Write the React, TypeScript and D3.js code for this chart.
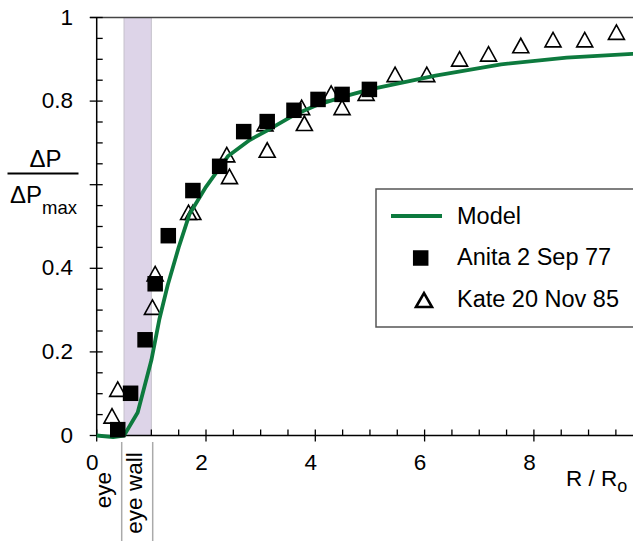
import React from "react";
import * as d3 from "d3";

const modelR = [0, 0.3, 0.5, 0.75, 1.0, 1.15, 1.3, 1.5, 1.7, 2.0, 2.4, 2.8, 3.1, 3.6, 4.0, 4.5, 5.0, 6.2, 7.4, 8.6, 9.8, 10];
const modelV = [0, -0.004, 0, 0.055, 0.18, 0.28, 0.36, 0.45, 0.53, 0.595, 0.668, 0.707, 0.728, 0.766, 0.789, 0.81, 0.828, 0.861, 0.888, 0.904, 0.913, 0.914];

const anitaR = [0.385, 0.62, 0.885, 1.07, 1.31, 1.76, 2.25, 2.69, 3.12, 3.61, 4.05, 4.49, 4.99];
const anitaV = [0.014, 0.101, 0.229, 0.363, 0.478, 0.586, 0.644, 0.727, 0.751, 0.778, 0.804, 0.816, 0.828];

const kateR = [0.28, 0.385, 1.02, 1.07, 1.68, 1.76, 2.38, 2.43, 3.08, 3.12, 3.75, 3.8, 4.29, 4.49, 4.93, 5.46, 6.04, 6.64, 7.17, 7.76, 8.35, 8.93, 9.51];
const kateV = [0.047, 0.111, 0.307, 0.387, 0.534, 0.534, 0.672, 0.62, 0.746, 0.683, 0.785, 0.747, 0.819, 0.785, 0.819, 0.864, 0.864, 0.901, 0.913, 0.933, 0.947, 0.947, 0.965];

const xMajor = [0, 2, 4, 6, 8];
const yMajor = [0, 0.2, 0.4, 0.6, 0.8, 1];
const yMajorLabels = ["0", "0.2", "0.4", "", "0.8", "1"];
const seriesNames = ["Model", "Anita 2 Sep 77", "Kate 20 Nov 85"];
const eyeBand = [0.5, 1.0];

const GREEN = "#0d7a3e";
const FONT = "'Liberation Sans', Arial, Helvetica, sans-serif";

const x = d3.scaleLinear().domain([0, 10]).range([96.7, 643.2]);
const y = d3.scaleLinear().domain([0, 1]).range([435.5, 17.5]);

function tri(cx: number, cy: number, w: number, h: number) {
  return `M${cx - w / 2},${cy + h / 2}L${cx},${cy - h / 2}L${cx + w / 2},${cy + h / 2}Z`;
}

export default function App() {
  const line = d3
    .line<number>()
    .x((_, i) => x(modelR[i]))
    .y((_, i) => y(modelV[i]));
  const modelPath = line(modelV) || "";
  const xMinor = d3.range(0, 10.01, 0.5).filter((v) => !xMajor.includes(v));
  const yMinor = d3.range(0, 1.001, 0.05).filter((v) => !yMajor.some((m) => Math.abs(m - v) < 1e-6));
  const sq = 15.5;

  return (
    <svg
      width={633}
      height={544}
      style={{ position: "absolute", left: 0, top: 0, background: "#fff" }}
      fontFamily={FONT}
    >
      <rect x={0} y={0} width={633} height={544} fill="#fff" />
      {/* eye wall band */}
      <rect x={x(eyeBand[0])} y={y(1)} width={x(eyeBand[1]) - x(eyeBand[0])} height={y(0) - y(1)} fill="#ddd4e8" />
      <line x1={x(eyeBand[0])} x2={x(eyeBand[0])} y1={y(1)} y2={y(0)} stroke="#c6c2cc" strokeWidth={1} />
      <line x1={x(eyeBand[1])} x2={x(eyeBand[1])} y1={y(1)} y2={y(0)} stroke="#c6c2cc" strokeWidth={1} />

      {/* top frame */}
      <line x1={90} x2={633} y1={y(1)} y2={y(1)} stroke="#444" strokeWidth={1.5} />
      {/* axes */}
      <line x1={x(0)} x2={x(0)} y1={y(1)} y2={y(0)} stroke="#000" strokeWidth={1.5} />
      <line x1={x(0)} x2={633} y1={y(0)} y2={y(0)} stroke="#000" strokeWidth={1.5} />

      {yMinor.map((v) => (
        <line key={"ym" + v} x1={x(0)} x2={x(0) + 6} y1={y(v)} y2={y(v)} stroke="#000" strokeWidth={1.3} />
      ))}
      {yMajor.map((v, i) => (
        <g key={"yM" + v}>
          <line x1={x(0) - 7} x2={x(0) + 6} y1={y(v)} y2={y(v)} stroke="#000" strokeWidth={1.3} />
          <text x={73} y={y(v) + 7} textAnchor="end" fontSize={22.5} fill="#000">
            {yMajorLabels[i]}
          </text>
        </g>
      ))}
      {xMinor.map((v) => (
        <line key={"xm" + v} x1={x(v)} x2={x(v)} y1={y(0) - 6} y2={y(0)} stroke="#000" strokeWidth={1.3} />
      ))}
      {xMajor.map((v) => (
        <g key={"xM" + v}>
          <line x1={x(v)} x2={x(v)} y1={y(0) - 6} y2={y(0) + 6} stroke="#000" strokeWidth={1.3} />
          <text x={x(v) - 4.5} y={470} textAnchor="middle" fontSize={22.5} fill="#000">
            {v}
          </text>
        </g>
      ))}

      {/* x axis title */}
      <text x={566} y={486} fontSize={22.5} fill="#000">
        R / R
        <tspan fontSize={18} dy={6}>
          o
        </tspan>
      </text>

      {/* eye labels */}
      <line x1={121.7} x2={121.7} y1={442} y2={541} stroke="#aaa" strokeWidth={1.5} />
      <line x1={152.7} x2={152.7} y1={442} y2={541} stroke="#aaa" strokeWidth={1.5} />
      <text transform="translate(111,490) rotate(-90)" textAnchor="middle" fontSize={22.5} fill="#000">
        eye
      </text>
      <text transform="translate(142,493) rotate(-90)" textAnchor="middle" fontSize={22.5} fill="#000">
        eye wall
      </text>

      {/* y axis title */}
      <text x={45.5} y={166.7} textAnchor="middle" fontSize={24} fill="#000">
        ΔP
      </text>
      <line x1={7.5} x2={78.5} y1={173.5} y2={173.5} stroke="#000" strokeWidth={2} />
      <text x={10} y={203.3} fontSize={24} fill="#000">
        ΔP
        <tspan fontSize={18.5} dy={11}>
          max
        </tspan>
      </text>

      {/* Kate triangles */}
      {kateV.map((v, i) => (
        <path key={"k" + i} d={tri(x(kateR[i]), y(v), 16, 14.5)} fill="none" stroke="#000" strokeWidth={1.6} strokeLinejoin="miter" />
      ))}

      {/* model */}
      <path d={modelPath} fill="none" stroke={GREEN} strokeWidth={3.8} strokeLinejoin="round" />

      {/* Anita squares */}
      {anitaV.map((v, i) => (
        <rect key={"a" + i} x={x(anitaR[i]) - sq / 2} y={y(v) - sq / 2} width={sq} height={sq} fill="#000" />
      ))}

      {/* legend */}
      <rect x={376} y={189} width={300} height={138} fill="#fff" stroke="#555" strokeWidth={1.5} />
      <line x1={391} x2={442} y1={216} y2={216} stroke={GREEN} strokeWidth={4} />
      <rect x={420.7 - sq / 2} y={258 - sq / 2} width={sq} height={sq} fill="#000" />
      <path d={tri(424, 300, 16, 14)} fill="none" stroke="#000" strokeWidth={2.6} />
      <text x={457} y={224} fontSize={23.5} fill="#000">
        {seriesNames[0]}
      </text>
      <text x={457} y={265} fontSize={23.5} fill="#000">
        {seriesNames[1]}
      </text>
      <text x={457} y={306.7} fontSize={23.5} fill="#000">
        {seriesNames[2]}
      </text>
    </svg>
  );
}
